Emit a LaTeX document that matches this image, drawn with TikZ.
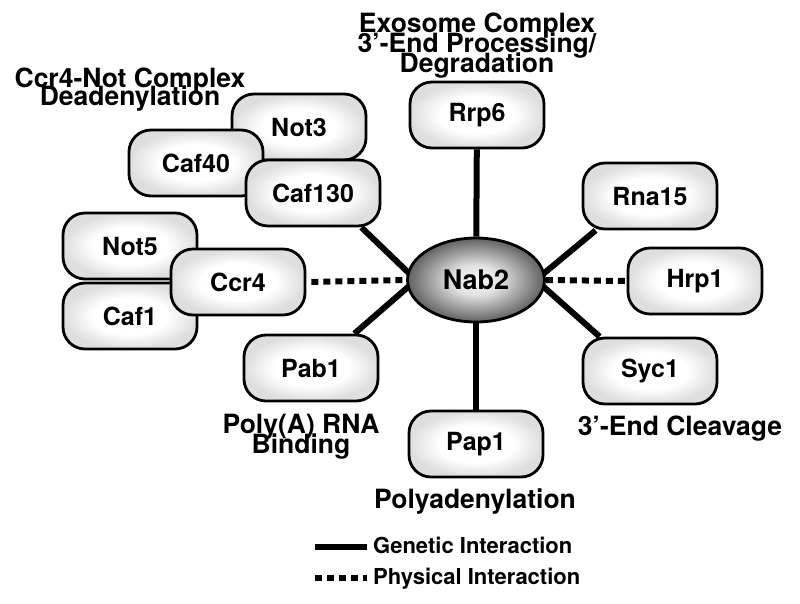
\documentclass[tikz,border=0pt]{standalone}
\usepackage{fontspec}
\setmainfont{TeX Gyre Heros}
\usetikzlibrary{shapes.geometric,backgrounds,calc}
\pgfdeclareradialshading{hubshade}{\pgfpoint{0bp}{0bp}}{color(0bp)=(black!2); color(9bp)=(black!12); color(25bp)=(black!62); color(50bp)=(black!62)}
\pgfdeclareradialshading{protshade}{\pgfpoint{0bp}{0bp}}{color(0bp)=(white); color(14bp)=(white); color(25bp)=(black!13); color(50bp)=(black!13)}
\tikzset{
 prot/.style={draw=black, line width=2.8pt, rounded corners=22pt, minimum width=134pt, minimum height=66pt, inner sep=0pt, shading=protshade, font=\fontsize{25}{25}\selectfont\bfseries},
 hub/.style={ellipse, draw=black, line width=2.8pt, minimum width=137pt, minimum height=84pt, inner sep=0pt, shading=hubshade, font=\fontsize{27}{27}\selectfont\bfseries},
 genetic/.style={line width=6pt, black},
 physical/.style={line width=6pt, black, dash pattern=on 7pt off 5pt},
 grp/.style={font=\fontsize{26.5}{20}\selectfont\bfseries, inner sep=0pt, anchor=base},
 leg/.style={font=\fontsize{22}{22}\selectfont\bfseries, inner sep=0pt, anchor=base west},
}
\begin{document}
\begin{tikzpicture}[x=1pt,y=-1pt]
\useasboundingbox (0,0) rectangle (800,603);

% hub
\node[hub] (nab2) at (476,280) {Nab2};

% proteins
\node[prot] (rrp6) at (477,115) {Rrp6};
\node[prot] (not3) at (299,127) {Not3};
\node[prot] (caf40) at (196,163) {Caf40};
\node[prot] (caf130) at (313,193) {Caf130};
\node[prot] (not5) at (130,246) {Not5};
\node[prot] (caf1) at (130,316) {Caf1};
\node[prot] (ccr4) at (238,282) {Ccr4};
\node[prot] (pab1) at (311,368) {Pab1};
\node[prot] (pap1) at (476,444) {Pap1};
\node[prot] (rna15) at (650,196) {Rna15};
\node[prot] (hrp1) at (695,281) {Hrp1};
\node[prot] (syc1) at (650,371) {Syc1};

\coordinate (nabL) at ($(nab2.west)+(10,0)$);
\coordinate (nabR) at ($(nab2.east)+(-10,0)$);
\coordinate (caf130end) at ($(caf130.south east)+(-20,0)$);
\coordinate (pab1end) at ($(pab1.north east)+(-25,0)$);
\coordinate (rna15end) at ($(rna15.south west)+(14,0)$);
\coordinate (syc1end) at ($(syc1.north west)+(18,0)$);

\begin{scope}[on background layer]
 \draw[genetic] (rrp6) -- (nab2);
 \draw[genetic] (nab2) -- (pap1);
 \draw[genetic] (nabL) -- (caf130end);
 \draw[genetic] (nabL) -- (pab1end);
 \draw[genetic] (nabR) -- (rna15end);
 \draw[genetic] (nabR) -- (syc1end);
 \draw[physical, shorten <=5pt] (ccr4.east) -- (nab2.west);
 \draw[physical] (nab2.east) -- (hrp1.west);
\end{scope}

% group labels
\node[grp] (ex1) at (477,32) {Exosome Complex};
\node[grp] (ex2) at (477,52) {3'-End Processing/};
\node[grp] (ex3) at (477,72) {Degradation};
\node[grp] (cn1) at (130,87) {Ccr4-Not Complex};
\node[grp] (cn2) at (130,105) {Deadenylation};
\node[grp] (pa1) at (301,433) {Poly(A) RNA};
\node[grp] (pa2) at (301,453) {Binding};
\node[grp] (cl) at (680,435) {3'-End Cleavage};
\node[grp] (pl) at (475,508) {Polyadenylation};

% legend
\coordinate (g1) at (315,547);
\coordinate (g2) at (367,547);
\coordinate (p1) at (315,578);
\coordinate (p2) at (367,578);
\draw[genetic] (g1) -- (g2);
\draw[physical] (p1) -- (p2);
\node[leg] (lg) at (373,553) {Genetic Interaction};
\node[leg] (lp) at (373,584) {Physical Interaction};
\end{tikzpicture}
\end{document}
